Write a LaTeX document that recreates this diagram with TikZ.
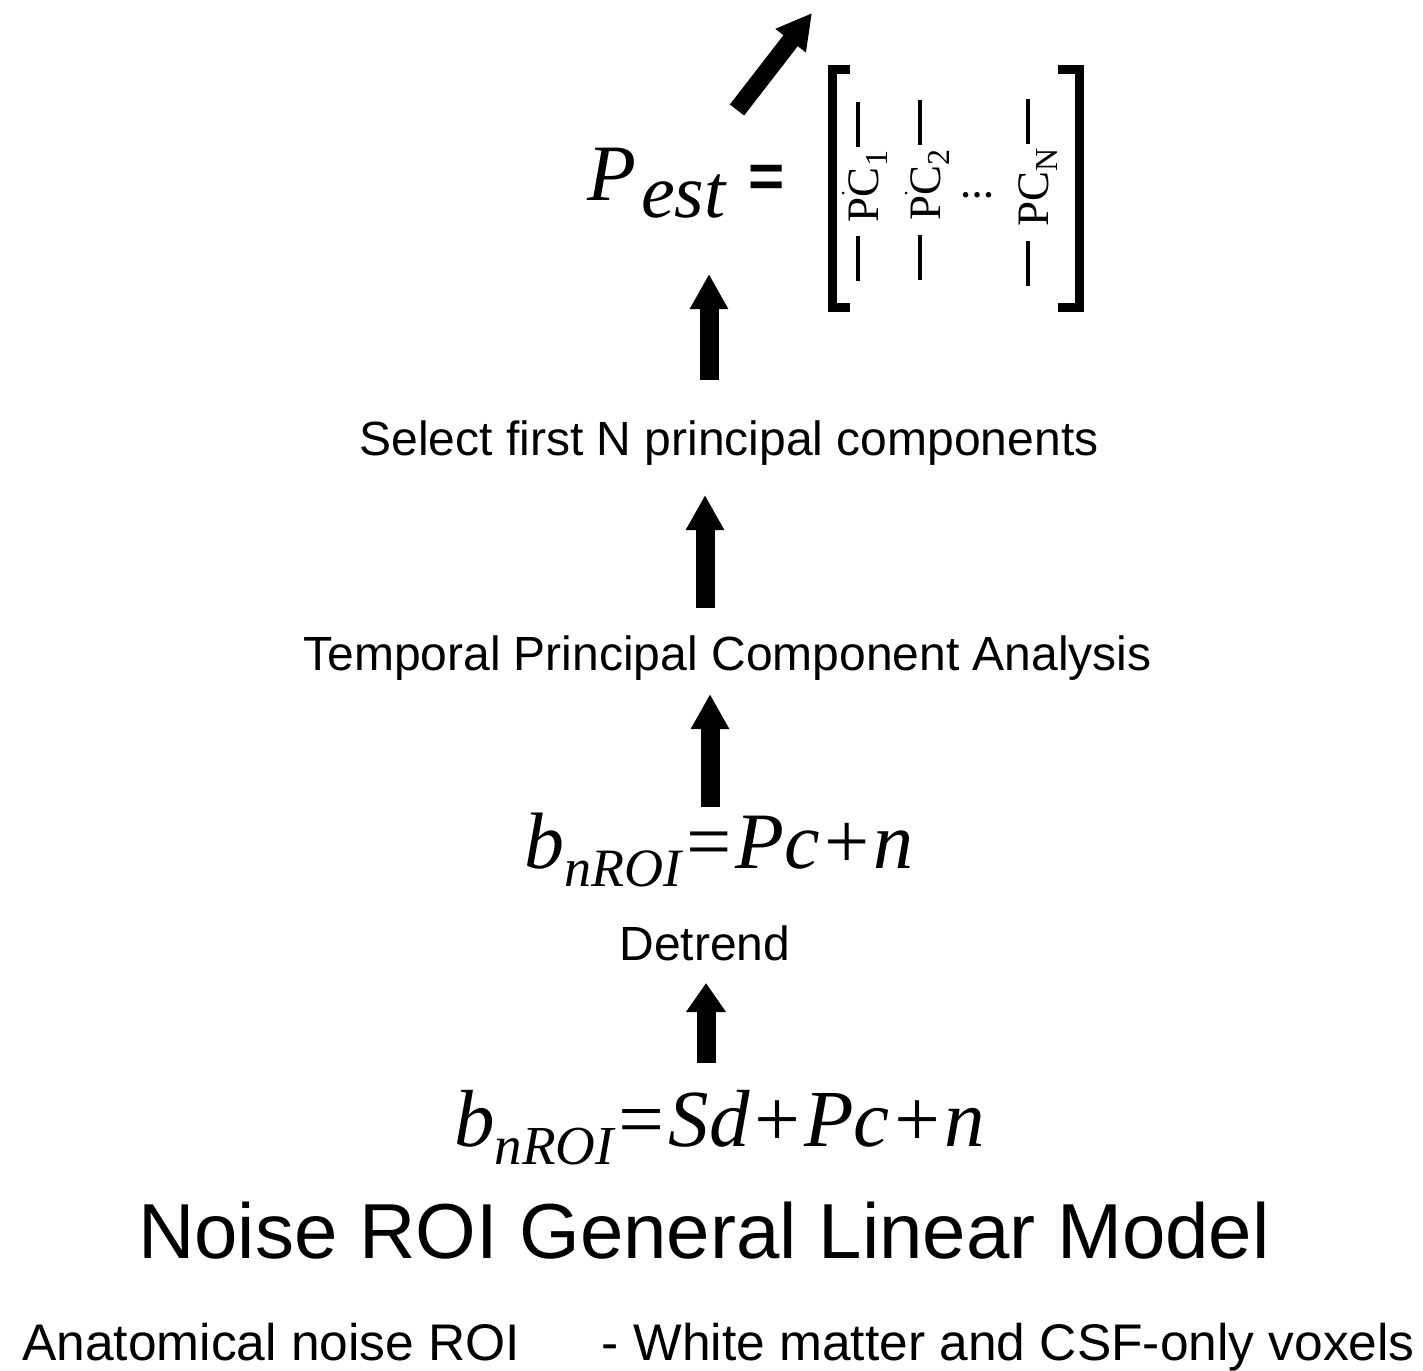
\documentclass[tikz,border=0pt]{standalone}
\usepackage{fontspec}
\setmainfont{Liberation Sans}
\newfontfamily\tms{Liberation Serif}
\usetikzlibrary{arrows.meta}
\newcommand\myfs[1]{\fontsize{#1}{#1}\selectfont}
\newcommand\cdash{\rule[18pt]{45pt}{4pt}}
\begin{document}
\begin{tikzpicture}[x=1pt,y=-1pt,
  txt/.style={inner sep=0pt, anchor=base},
  lbl/.style={txt, font=\myfs{48}},
  bigarrow/.style={line width=19pt, -{Triangle[width=36pt,length=35pt]}},
  col/.style={inner sep=0pt, anchor=base, rotate=90, font=\tms\myfs{45}},
  brk/.style={line width=9pt, line join=miter}]
\path[use as bounding box, fill=white] (0,0) rectangle (1423,1370);

% top: P_est = [ ... ]
\node[txt, anchor=base west] (pest) at (587,200) {\tms\itshape\myfs{80}P\kern5pt\raisebox{-17pt}{\myfs{76}est}};
\node[txt] (eqs) at (767,197) {\bfseries\myfs{62}=};
\draw[brk] (850,70) -- (832,70) -- (832,307) -- (850,307);
\draw[brk] (1058,70) -- (1079,70) -- (1079,307) -- (1058,307);
\node[col] (pc1) at (878,191.5) {\cdash\kern14pt PC\raisebox{-9pt}{\myfs{32}1}\kern4pt\cdash};
\node[col] (pc2) at (940,190) {\cdash\kern14pt PC\raisebox{-9pt}{\myfs{32}2}\kern4pt\cdash};
\node[col] (pcn) at (1048,192.5) {\cdash\kern14pt PC\raisebox{-9pt}{\myfs{32}N}\kern4pt\cdash};
\node[txt] (dots) at (977,197) {\tms\bfseries\myfs{34}\ldots};
\fill (843,193) circle (1.5);
\fill (906,193) circle (1.5);

% labels
\node[lbl] (sel) at (729,455) {Select first N principal components};
\node[lbl] (tpca) at (727.5,670) {Temporal Principal Component Analysis};
\node[txt, anchor=base west] (eq1) at (524,868) {\tms\itshape\myfs{80}b\raisebox{-18pt}{\myfs{54}nROI}=Pc+n};
\node[lbl] (det) at (705,960) {Detrend};
\node[txt, anchor=base west] (eq2) at (454,1146) {\tms\itshape\myfs{81}b\raisebox{-18pt}{\myfs{55}nROI}=Sd+Pc+n};
\node[txt, font=\myfs{78}] (title) at (704,1258) {Noise ROI General Linear Model};
\node[txt, anchor=base west, font=\myfs{51.5}] (anat) at (22,1360) {Anatomical noise ROI};
\node[txt, anchor=base east, font=\myfs{51.5}] (wm) at (1415,1360) {- White matter and CSF-only voxels};

% arrows
\coordinate (d0) at (737,110); \coordinate (d1) at (812,13);
\coordinate (a1s) at (709,380); \coordinate (a1e) at (709,274);
\coordinate (a2s) at (705,608); \coordinate (a2e) at (705,495);
\coordinate (a3s) at (710,807); \coordinate (a3e) at (710,694);
\coordinate (a4s) at (706,1063); \coordinate (a4e) at (706,983);
\draw[bigarrow, line width=18pt] (d0) -- (d1);
\draw[bigarrow] (a1s) -- (a1e);
\draw[bigarrow] (a2s) -- (a2e);
\draw[bigarrow] (a3s) -- (a3e);
\draw[bigarrow, -{Triangle[width=38pt,length=29pt]}] (a4s) -- (a4e);
\end{tikzpicture}
\end{document}
